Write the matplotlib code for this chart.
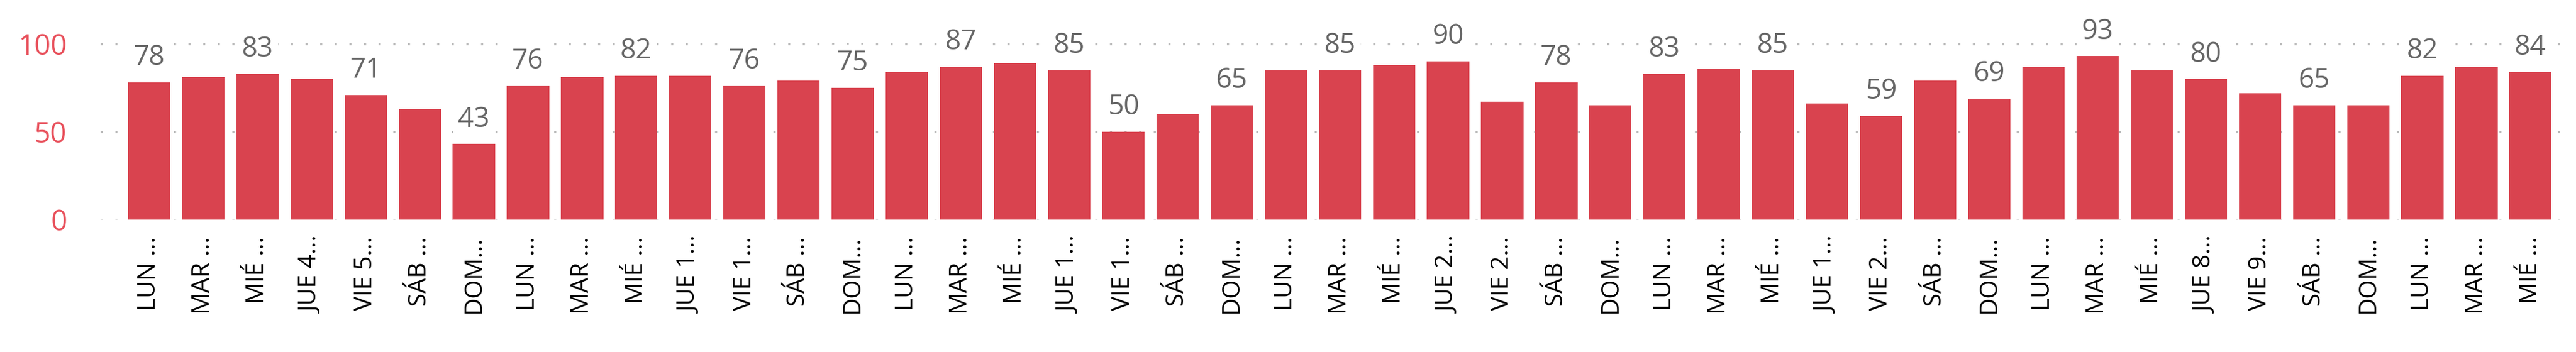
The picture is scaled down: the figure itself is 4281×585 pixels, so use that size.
import matplotlib.pyplot as plt
import numpy as np

days = ['LUN ...', 'MAR ...', 'MIÉ ...', 'JUE 4...', 'VIE 5...', 'SÁB ...', 'DOM...',
        'LUN ...', 'MAR ...', 'MIÉ ...', 'JUE 1...', 'VIE 1...', 'SÁB ...', 'DOM...',
        'LUN ...', 'MAR ...', 'MIÉ ...', 'JUE 1...', 'VIE 1...', 'SÁB ...', 'DOM...',
        'LUN ...', 'MAR ...', 'MIÉ ...', 'JUE 2...', 'VIE 2...', 'SÁB ...', 'DOM...',
        'LUN ...', 'MAR ...', 'MIÉ ...', 'JUE 1...', 'VIE 2...', 'SÁB ...', 'DOM...',
        'LUN ...', 'MAR ...', 'MIÉ ...', 'JUE 8...', 'VIE 9...', 'SÁB ...', 'DOM...',
        'LUN ...', 'MAR ...', 'MIÉ ...']
values = [78, 81, 83, 80, 71, 63, 43,
          76, 81, 82, 82, 76, 79, 75,
          84, 87, 89, 85, 50, 60, 65,
          85, 85, 88, 90, 67, 78, 65,
          83, 86, 85, 66, 59, 79, 69,
          87, 93, 85, 80, 72, 65, 65,
          82, 87, 84]
# bars that carry a data label (0-based)
labeled = [0, 2, 4, 6, 7, 9, 11, 13, 15, 17, 18, 20, 22, 24, 26, 28, 30, 32,
           34, 36, 38, 40, 42, 44]

plt.rcParams['font.family'] = ['Open Sans', 'DejaVu Sans']

fig = plt.figure(figsize=(42.81, 5.85), dpi=100)
ax = fig.add_axes([0.039, 0.376, 0.957, 0.624])

x = np.arange(len(values))
ax.bar(x, values, width=0.78, color='#D9434F', zorder=2)

for i in labeled:
    ax.text(x[i], values[i] + 14, str(values[i]), ha='center', va='center',
            fontsize=33, color='#666666', zorder=3,
            bbox=dict(facecolor='white', edgecolor='none', pad=6))

ax.set_xlim(-0.9, len(values) - 0.35)
ax.set_ylim(0, 125)
ax.set_yticks([0, 50, 100])
ax.yaxis.grid(True, linestyle=(0, (1, 6)), color='#bbbbbb', linewidth=2.5, zorder=0)
ax.set_xticks(x)
ax.set_xticklabels(days, rotation=90, fontsize=29, color='black')
ax.tick_params(axis='y', labelsize=34, labelcolor='#E8505B', length=0, pad=40)
ax.tick_params(axis='x', length=0, pad=20)
for s in ax.spines.values():
    s.set_visible(False)

fig.savefig('out.png', dpi=100)
